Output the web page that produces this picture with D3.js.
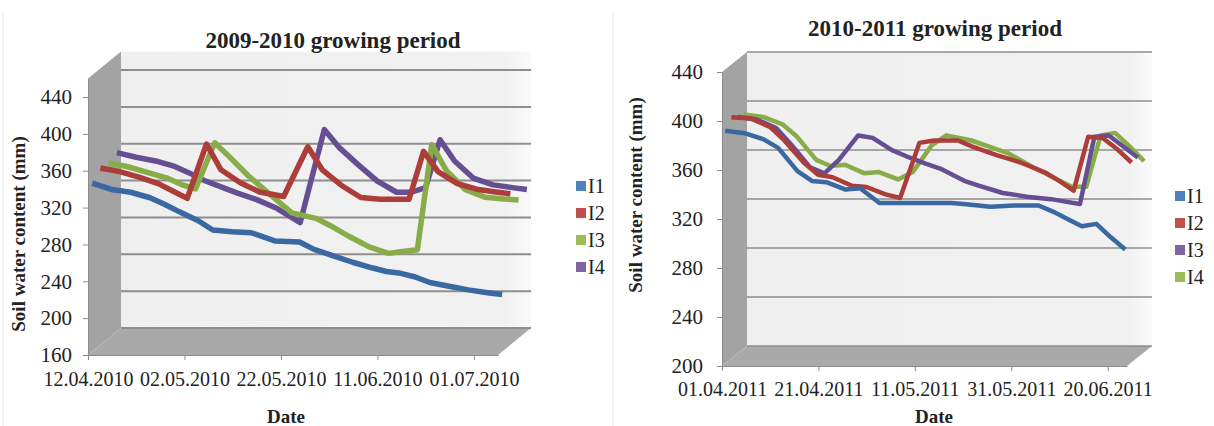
<!DOCTYPE html>
<html>
<head>
<meta charset="utf-8">
<script src="https://cdn.jsdelivr.net/npm/d3@7"></script>
<style>
  body { margin: 0; background: #fff; }
  svg { display: block; }
  text { font-family: "Liberation Serif", "Times New Roman", serif; fill: #222; }
</style>
</head>
<body>
<svg id="chart" width="1214" height="426"></svg>
<script>
// ---- data -------------------------------------------------------------
const seriesNames = ["I1", "I2", "I3", "I4"];

// 2009-2010 growing period (soil water content, mm)
const dates2010 = ["2010-04-12","2010-04-16","2010-04-20","2010-04-24","2010-04-27","2010-04-30",
  "2010-05-04","2010-05-07","2010-05-11","2010-05-15","2010-05-20","2010-05-25","2010-05-28",
  "2010-06-01","2010-06-05","2010-06-09","2010-06-12","2010-06-15","2010-06-18","2010-06-21",
  "2010-06-25","2010-06-29","2010-07-03","2010-07-06"];
const i1_2010 = [343,336,333,327,320,312,302,292,290,289,280,279,271,264,257,251,247,245,241,235,231,227,224,222];
const i2_2010 = [352,348,342,335,327,319,378,350,336,326,321,375,350,333,320,318,318,318,370,348,335,329,326,324];
const i3_2010 = [350,346,340,334,327,322,372,357,336,318,296,290,282,270,259,252,254,256,370,342,321,313,311,310];
const i4_2010 = [354,349,345,339,332,324,316,310,303,294,278,379,360,341,323,311,311,316,368,345,326,319,316,314];
const xTicks2010 = ["2010-04-12","2010-05-02","2010-05-22","2010-06-11","2010-07-01"];
const yTicks2010 = [160,200,240,280,320,360,400,440];

// 2010-2011 growing period (soil water content, mm)
const dates2011 = ["2011-04-01","2011-04-05","2011-04-09","2011-04-12","2011-04-16","2011-04-19",
  "2011-04-22","2011-04-26","2011-04-29","2011-05-03","2011-05-06","2011-05-10","2011-05-13",
  "2011-05-18","2011-05-21","2011-05-26","2011-05-31","2011-06-05","2011-06-08","2011-06-11",
  "2011-06-14","2011-06-17","2011-06-20","2011-06-23"];
const i1_2011 = [390,388,383,376,357,349,348,342,343,331,331,331,331,331,330,328,329,329,324,318,312,314,303,293];
const i2_2011 = [397,396,389,378,360,350,348,341,340,334,331,376,378,378,373,366,360,352,345,337,381,380,371,360];
const i3_2011 = [393,391,384,371,352,347,358,378,376,366,361,355,351,341,337,331,328,326,324,322,377,378,369,360];
const i4_2011 = [391,389,383,373,354,349,350,343,344,338,344,366,374,370,366,359,348,338,332,332,374,376,365,353];
const xTicks2011 = ["2011-04-01","2011-04-21","2011-05-11","2011-05-31","2011-06-20"];
const yTicks2011 = [200,240,280,320,360,400,440];

// ---- styles -----------------------------------------------------------
const legendColor = { I1: "#4F81BD", I2: "#C0504D", I3: "#9BBB59", I4: "#8064A2" };
const legendColor2011 = { I1: "#4F81BD", I2: "#C0504D", I3: "#8064A2", I4: "#9BBB59" };
const lineColor = { I1: "#3A68A2", I2: "#AC3D38", I3: "#88AC48", I4: "#654F92" };
const lineColor2011 = { I1: "#3A68A2", I2: "#AC3D38", I3: "#654F92", I4: "#88AC48" };

const parse = d3.utcParse("%Y-%m-%d");
const fmt = d3.utcFormat("%d.%m.%Y");
const svg = d3.select("#chart");

const defs = svg.append("defs");
const grad = defs.append("linearGradient").attr("id", "wallFade").attr("x1", 0).attr("x2", 1).attr("y1", 0).attr("y2", 0);
grad.append("stop").attr("offset", "0%").attr("stop-color", "#EFEFEF");
grad.append("stop").attr("offset", "94%").attr("stop-color", "#F1F1F1");
grad.append("stop").attr("offset", "100%").attr("stop-color", "#FAFAFA");

// faint chart-area edges
svg.append("g").selectAll("line").data([3, 613]).join("line")
  .attr("x1", d => d).attr("x2", d => d).attr("y1", 13).attr("y2", 426)
  .attr("stroke", "#E8E8E8").attr("stroke-width", 1);

function drawPanel(p) {
  const g = svg.append("g");
  const x = d3.scaleUtc().domain([parse(p.start), parse(p.end)]).range([p.x0, p.x1]);
  const y = d3.scaleLinear().domain([p.yMin, p.yMax]).range([p.yBottom, p.yTop]);
  const [DX, DY] = p.depth;
  const X0 = p.x0, X1 = p.x1, Yb = y(p.yMin), Yt = y(p.yMax);

  // back wall
  g.append("rect")
    .attr("x", X0 + DX).attr("y", Yt + DY)
    .attr("width", X1 - X0).attr("height", Yb - Yt)
    .attr("fill", "url(#wallFade)");
  // side wall
  g.append("path")
    .attr("d", `M${X0},${Yb}L${X0},${Yt}L${X0 + DX},${Yt + DY}L${X0 + DX},${Yb + DY}Z`)
    .attr("fill", "#A3A3A3");
  // floor
  g.append("path")
    .attr("d", `M${X0},${Yb}L${X0 + DX},${Yb + DY}L${X1 + DX},${Yb + DY}L${X1},${Yb}Z`)
    .attr("fill", "#A9A9A9");

  // gridlines on the back wall
  g.append("g").selectAll("line").data(p.yTicks).join("line")
    .attr("x1", X0 + DX).attr("x2", X1 + DX)
    .attr("y1", d => y(d) + DY).attr("y2", d => y(d) + DY)
    .attr("stroke", "#8E8E8E").attr("stroke-width", p.gridWidth);

  // value axis on the front edge
  const ya = g.append("g").attr("transform", `translate(${X0},0)`)
    .call(d3.axisLeft(y).tickValues(p.yTicks).tickSize(5).tickSizeOuter(0).tickPadding(p.yPad));
  ya.select(".domain").attr("stroke", "#8C8C8C");
  ya.selectAll(".tick line").attr("stroke", "#8C8C8C");
  ya.selectAll(".tick text").attr("font-size", p.tickFont).attr("fill", "#333")
    .attr("font-family", '"Liberation Serif", "Times New Roman", serif');

  // date axis on the front floor edge
  const xa = g.append("g").attr("transform", `translate(0,${Yb})`)
    .call(d3.axisBottom(x).tickValues(p.xTicks.map(parse)).tickFormat(fmt)
      .tickSize(5).tickSizeOuter(0).tickPadding(p.xPad));
  xa.select(".domain").attr("stroke", "#8C8C8C");
  xa.selectAll(".tick line").attr("stroke", "#8C8C8C");
  xa.selectAll(".tick text").attr("font-size", p.xTickFont).attr("fill", "#333")
    .attr("font-family", '"Liberation Serif", "Times New Roman", serif');

  // series, each in its own depth row (back rows first)
  const line = d3.line().x(d => x(d.date)).y(d => y(d.v));
  const n = p.series.length;
  for (let i = n - 1; i >= 0; i--) {
    const s = p.series[i];
    const f = (i + 0.5) / n;
    const pts = p.dates.map((dt, k) => ({ date: parse(dt), v: s.values[k] }));
    g.append("path")
      .attr("transform", `translate(${DX * f},${DY * f})`)
      .attr("d", line(pts))
      .attr("fill", "none")
      .attr("stroke", p.lineColor[s.name])
      .attr("stroke-width", p.lineWidth)
      .attr("stroke-linejoin", "round");
  }

  // title
  g.append("text").attr("x", p.titleX).attr("y", p.titleY)
    .attr("text-anchor", "middle").attr("font-size", 23).attr("font-weight", "bold")
    .text(p.title);
  // axis titles
  g.append("text").attr("transform", `translate(${p.yTitleX},${p.yTitleY}) rotate(-90)`)
    .attr("text-anchor", "middle").attr("dy", "0.35em")
    .attr("font-size", 19).attr("font-weight", "bold")
    .text("Soil water content (mm)");
  g.append("text").attr("x", p.xTitleX).attr("y", 423)
    .attr("text-anchor", "middle").attr("font-size", 19).attr("font-weight", "bold")
    .text("Date");

  // legend
  const lg = g.append("g").selectAll("g").data(p.series).join("g")
    .attr("transform", (d, i) => `translate(${p.legendX},${p.legendY + i * 27})`);
  lg.append("rect").attr("x", 0).attr("y", -5).attr("width", 10).attr("height", 10)
    .attr("fill", d => p.legendColor[d.name]);
  lg.append("text").attr("x", 12).attr("dy", "0.35em").attr("font-size", 20)
    .text(d => d.name);
}

drawPanel({
  title: "2009-2010 growing period", titleX: 333, titleY: 48,
  start: "2010-04-12", end: "2010-07-06", x0: 88, x1: 498,
  yMin: 160, yMax: 460, yBottom: 355, yTop: 78.6, depth: [33, -27],
  yTicks: yTicks2010, xTicks: xTicks2010, dates: dates2010,
  yPad: 11, xPad: 12, tickFont: 21, xTickFont: 20, gridWidth: 2, lineWidth: 5.5,
  yTitleX: 18, yTitleY: 234, xTitleX: 286,
  legendX: 576, legendY: 186,
  lineColor: lineColor, legendColor: legendColor,
  series: [
    { name: "I1", values: i1_2010 }, { name: "I2", values: i2_2010 },
    { name: "I3", values: i3_2010 }, { name: "I4", values: i4_2010 }
  ]
});

drawPanel({
  title: "2010-2011 growing period", titleX: 935, titleY: 36,
  start: "2011-04-01", end: "2011-06-24", x0: 722, x1: 1127,
  yMin: 200, yMax: 440, yBottom: 366, yTop: 72, depth: [25, -20],
  yTicks: yTicks2011, xTicks: xTicks2011, dates: dates2011,
  yPad: 14, xPad: 11, tickFont: 21, xTickFont: 20, gridWidth: 1.6, lineWidth: 4.5,
  yTitleX: 635, yTitleY: 195, xTitleX: 934,
  legendX: 1175, legendY: 196,
  lineColor: lineColor2011, legendColor: legendColor2011,
  series: [
    { name: "I1", values: i1_2011 }, { name: "I2", values: i2_2011 },
    { name: "I3", values: i3_2011 }, { name: "I4", values: i4_2011 }
  ]
});
</script>
</body>
</html>
